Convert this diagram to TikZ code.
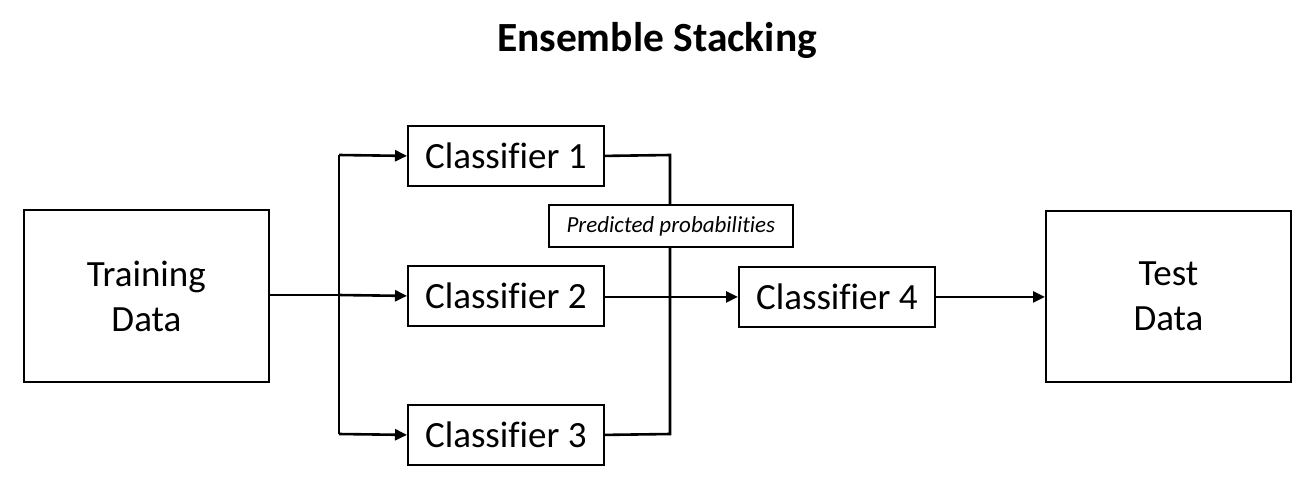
\documentclass[tikz,border=0pt]{standalone}
\usepackage{fontspec}
\setmainfont[Ligatures=CommonOff]{Carlito}
\usetikzlibrary{arrows.meta}
\begin{document}
\begin{tikzpicture}[x=1pt,y=-1pt,
  box/.style={draw=black,line width=1.8pt,fill=white,inner sep=0pt,anchor=north west,align=center,font=\fontsize{37}{45}\selectfont},
  conn/.style={line width=2.6pt,draw=black},
  arr/.style={conn,-{Triangle[length=12pt,width=11pt]}}]
\useasboundingbox (0,0) rectangle (1313,483);
\node[font=\bfseries\fontsize{41.5}{48}\selectfont] (title) at (657,40) {Ensemble Stacking};
\node[box,minimum width=245pt,minimum height=172pt] (train) at (23,209) {Training\\Data};
\node[box,minimum width=196pt,minimum height=60pt] (c1) at (407,125) {Classifier 1};
\node[box,minimum width=196pt,minimum height=60pt] (c2) at (407,265) {Classifier 2};
\node[box,minimum width=196pt,minimum height=60pt] (c3) at (407,404) {Classifier 3};
\node[box,minimum width=196pt,minimum height=60pt] (c4) at (738,266) {Classifier 4};
\node[box,minimum width=245pt,minimum height=171pt] (test) at (1045,210) {Test\\Data};
\coordinate (b1) at (339,155);
\coordinate (b2) at (339,295);
\coordinate (b3) at (339,434);
\coordinate (r1) at (670,155);
\coordinate (r3) at (670,434);
% left fan-out
\draw[conn] (train.east |- b2) -- (b2);
\draw[arr] (b2) -- (c2.west);
\draw[conn] (b1) -- (b3);
\draw[arr] (b1) -- (c1.west);
\draw[arr] (b3) -- (c3.west);
% right collection
\draw[conn] (c1.east) -- (r1) -- (r3) -- (c3.east);
\draw[arr] (c2.east |- c4.west) -- (c4.west);
\draw[arr] (c4.east) -- (test.west |- c4.east);
\node[box,font=\itshape\fontsize{23}{27}\selectfont,minimum width=244pt,minimum height=42pt] (pp) at (548,204) {Predicted probabilities};
\end{tikzpicture}
\end{document}
